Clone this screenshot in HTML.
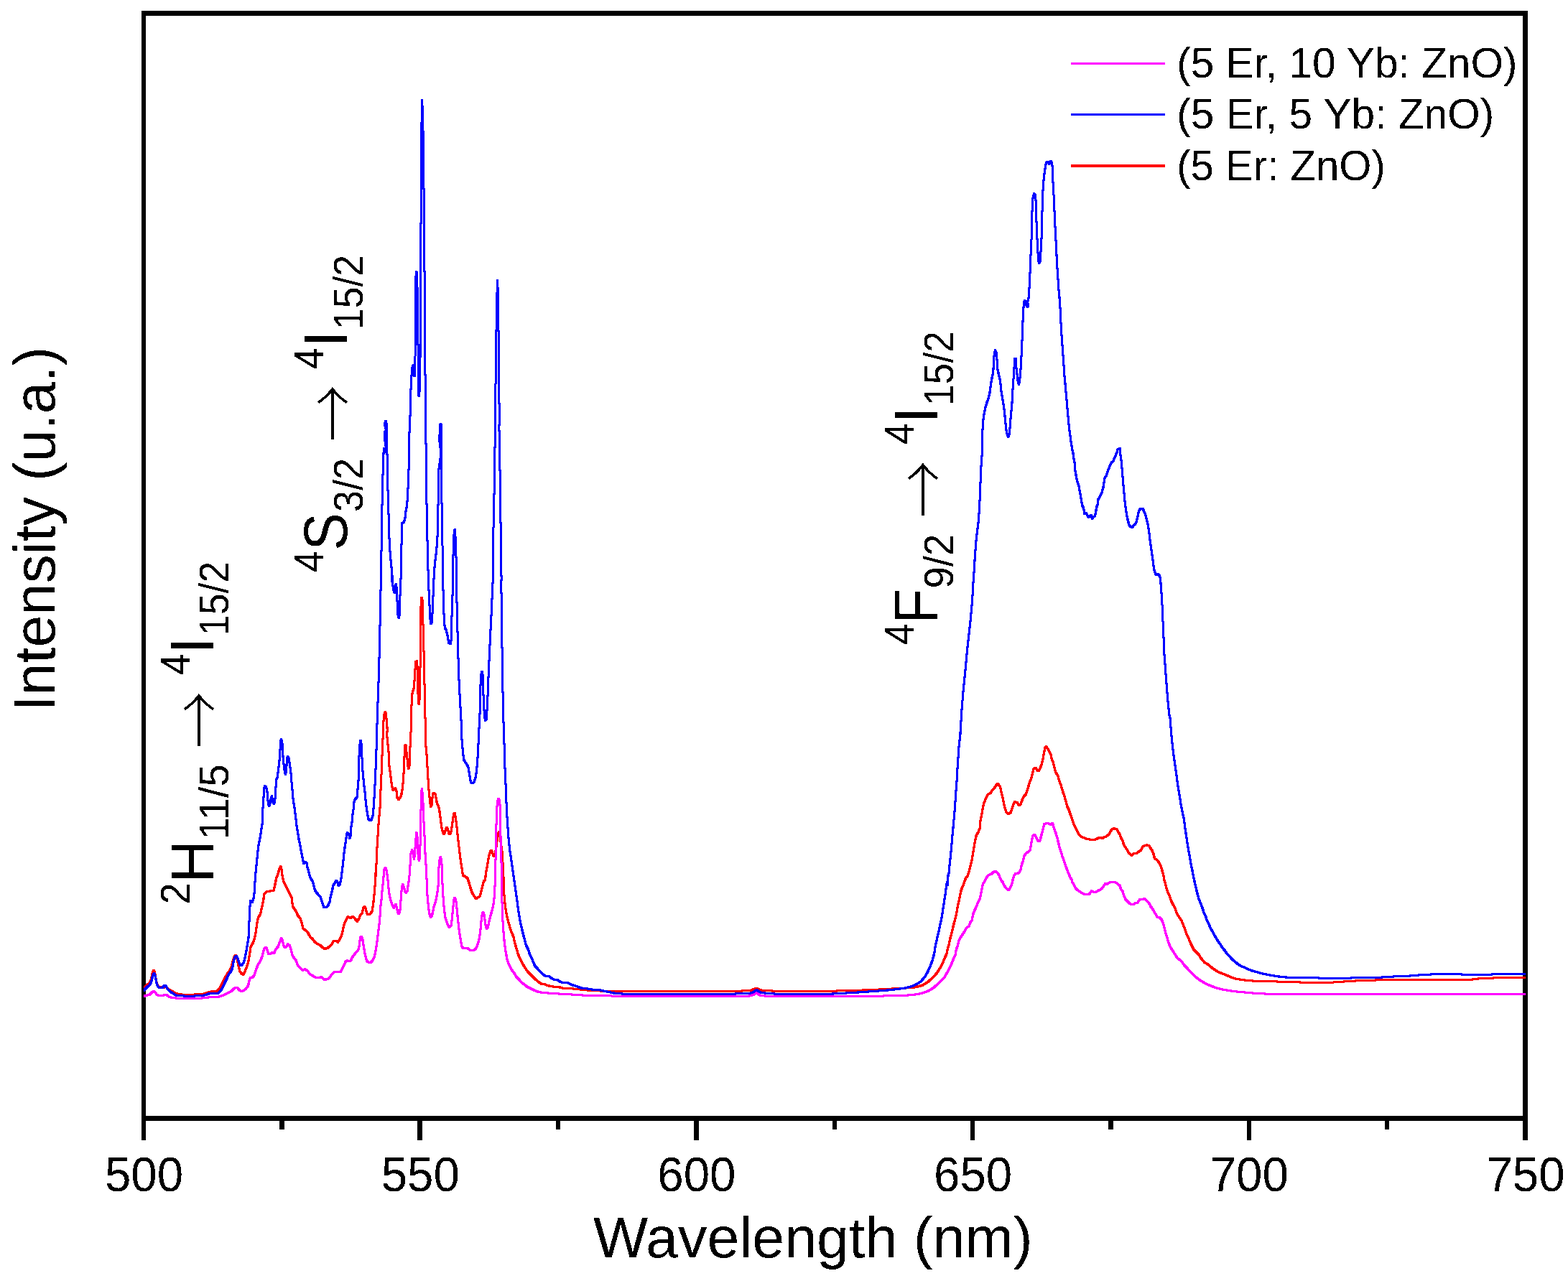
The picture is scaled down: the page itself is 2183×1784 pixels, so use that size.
<!DOCTYPE html>
<html lang="en"><head><meta charset="utf-8"><title>Upconversion emission spectra</title>
<style>
html,body{margin:0;padding:0;background:#fff;}
body{width:2183px;height:1784px;overflow:hidden;}
svg{display:block;}
text{font-family:"Liberation Sans",Arial,Helvetica,sans-serif;font-size:100px;fill:#000;}
text.ar{font-family:"Noto Serif CJK SC","Noto Serif CJK JP","DejaVu Serif",serif;}
.tk{text-anchor:middle;}
.cv{fill:none;stroke-width:1;stroke-linejoin:round;stroke-linecap:butt;}
</style></head><body>
<svg width="2183" height="1784" viewBox="0 0 2183 1784">
<rect x="0" y="0" width="2183" height="1784" fill="#fff"/>
<filter id="br" filterUnits="userSpaceOnUse" x="190" y="100" width="1944" height="1320"><feMorphology operator="dilate" radius="1"/></filter>
<filter id="bin" filterUnits="userSpaceOnUse" x="0" y="0" width="2183" height="1784" color-interpolation-filters="sRGB"><feComponentTransfer><feFuncA type="discrete" tableValues="0 1"/></feComponentTransfer></filter>
<g shape-rendering="crispEdges">
<rect x="197" y="15" width="1930" height="7" fill="#000"/>
<rect x="197" y="1554" width="1930" height="7" fill="#000"/>
<rect x="197" y="15" width="6" height="1546" fill="#000"/>
<rect x="2120" y="15" width="7" height="1546" fill="#000"/>
<line x1="200.00" y1="1557" x2="200.00" y2="1588" stroke="#000" stroke-width="6.5"/>
<line x1="392.35" y1="1557" x2="392.35" y2="1573" stroke="#000" stroke-width="6.5"/>
<line x1="584.70" y1="1557" x2="584.70" y2="1588" stroke="#000" stroke-width="6.5"/>
<line x1="777.05" y1="1557" x2="777.05" y2="1573" stroke="#000" stroke-width="6.5"/>
<line x1="969.40" y1="1557" x2="969.40" y2="1588" stroke="#000" stroke-width="6.5"/>
<line x1="1161.75" y1="1557" x2="1161.75" y2="1573" stroke="#000" stroke-width="6.5"/>
<line x1="1354.10" y1="1557" x2="1354.10" y2="1588" stroke="#000" stroke-width="6.5"/>
<line x1="1546.45" y1="1557" x2="1546.45" y2="1573" stroke="#000" stroke-width="6.5"/>
<line x1="1738.80" y1="1557" x2="1738.80" y2="1588" stroke="#000" stroke-width="6.5"/>
<line x1="1931.15" y1="1557" x2="1931.15" y2="1573" stroke="#000" stroke-width="6.5"/>
<line x1="2123.50" y1="1557" x2="2123.50" y2="1588" stroke="#000" stroke-width="6.5"/>
</g>
<g filter="url(#bin)">
<text class="tk" transform="translate(200.50,1659.40) scale(0.6541,0.6784)">500</text>
<text class="tk" transform="translate(585.20,1659.40) scale(0.6541,0.6784)">550</text>
<text class="tk" transform="translate(969.90,1659.40) scale(0.6541,0.6784)">600</text>
<text class="tk" transform="translate(1354.60,1659.40) scale(0.6541,0.6784)">650</text>
<text class="tk" transform="translate(1739.30,1659.40) scale(0.6541,0.6784)">700</text>
<text class="tk" transform="translate(2124.00,1659.40) scale(0.6541,0.6784)">750</text>
<text transform="translate(825.90,1750.50) scale(0.8076,0.8058)">Wavelength (nm)</text>
<text transform="translate(76.00,990.41) rotate(-90) scale(0.8010,0.8087)">Intensity (u.a.)</text>
<rect x="1491" y="87" width="131" height="3" fill="#ff00ff"/>
<text transform="translate(1638.24,107.90) scale(0.5858,0.5964)">(5 Er, 10 Yb: ZnO)</text>
<rect x="1491" y="158" width="131" height="3" fill="#0000ff"/>
<text transform="translate(1638.24,178.80) scale(0.5864,0.5964)">(5 Er, 5 Yb: ZnO)</text>
<rect x="1491" y="229" width="131" height="4" fill="#ff0000"/>
<text transform="translate(1638.27,250.90) scale(0.5811,0.5964)">(5 Er: ZnO)</text>
<text transform="translate(263.90,1259.51) rotate(-90) scale(0.5429,0.5658)">2</text>
<text transform="translate(297.00,1229.59) rotate(-90) scale(0.8233,0.8436)">H</text>
<text transform="translate(318.00,1169.41) rotate(-90) scale(0.5613,0.5702)">11/5</text>
<text class="ar" transform="translate(310.31,1042.17) rotate(-90) scale(0.7914,0.8792)">→</text>
<text transform="translate(263.90,939.89) rotate(-90) scale(0.5287,0.5658)">4</text>
<text transform="translate(297.00,911.20) rotate(-90) scale(0.8757,0.8436)">I</text>
<text transform="translate(318.00,885.59) rotate(-90) scale(0.5324,0.5702)">15/2</text>
<text transform="translate(449.90,797.10) rotate(-90) scale(0.5347,0.5658)">4</text>
<text transform="translate(483.00,766.42) rotate(-90) scale(0.7826,0.8436)">S</text>
<text transform="translate(504.60,712.92) rotate(-90) scale(0.5390,0.5702)">3/2</text>
<text class="ar" transform="translate(496.31,615.06) rotate(-90) scale(0.7903,0.8792)">→</text>
<text transform="translate(449.90,514.09) rotate(-90) scale(0.5287,0.5658)">4</text>
<text transform="translate(483.00,484.20) rotate(-90) scale(0.8757,0.8436)">I</text>
<text transform="translate(504.60,458.90) rotate(-90) scale(0.5330,0.5702)">15/2</text>
<text transform="translate(1271.90,898.10) rotate(-90) scale(0.5327,0.5658)">4</text>
<text transform="translate(1305.00,868.60) rotate(-90) scale(0.8000,0.8436)">F</text>
<text transform="translate(1326.60,819.48) rotate(-90) scale(0.5439,0.5702)">9/2</text>
<text class="ar" transform="translate(1318.31,721.28) rotate(-90) scale(0.7946,0.8792)">→</text>
<text transform="translate(1271.90,619.11) rotate(-90) scale(0.5366,0.5658)">4</text>
<text transform="translate(1305.00,590.20) rotate(-90) scale(0.8757,0.8436)">I</text>
<text transform="translate(1326.60,564.79) rotate(-90) scale(0.5324,0.5702)">15/2</text>
</g>
<clipPath id="cp"><rect x="200" y="0" width="1924" height="1784"/></clipPath>
<g class="cv" shape-rendering="crispEdges" clip-path="url(#cp)">
<g stroke="#ff0000" filter="url(#br)"><polyline points="200,1377.7 203.5,1372.2 208.4,1369.1 210.8,1362.4 212.6,1353.2 214.1,1351.4 215.7,1354.5 217.5,1366.1 219.4,1372.2 221.8,1374.7 226.7,1375.3 231.6,1374.7 235.3,1378.3 240.2,1380.8 245.1,1383.8 253.7,1385.1 261,1385.7 269.6,1385.1 283,1384.2 290.4,1382 295.3,1380.8 302,1380.8 306.3,1375.9 309.4,1369.8 313,1362.4 316.7,1355.7 319.8,1352 322.2,1346.5 324.7,1336.7 326.5,1331.6 328.3,1330.3 330.2,1335.5 332,1345.3 333.8,1352.6 336.3,1355.7 338.4,1357.5 340.6,1353.8 343.6,1346.5 346.1,1337.9 347.9,1326.9 349.1,1318.3 352.8,1312.2 354.6,1306.1 356.5,1296.3 357.7,1286.5 359.5,1277.9 362.6,1273.1 364.4,1264.5 366.3,1255.9 368.1,1244.9 371.2,1241.8 374.8,1241.2 381,1240 382.8,1232.5 384.7,1223.2 387.1,1217.1 389,1209.7 390.8,1206.7 392,1211 393.2,1220.8 395.1,1228.1 406.1,1249.8 407.6,1262.6 411.6,1268.2 414.6,1274.9 418.3,1279.2 420.1,1285.3 422,1293.2 426.3,1296.3 428.7,1298.8 431.8,1304.9 434.8,1307.3 438.5,1312.2 442.2,1314.7 445.8,1316.5 450,1320.2 452.2,1321.4 455.9,1320.4 459.6,1317.3 462.6,1314.3 464.5,1310 468.2,1310 470.4,1312.1 472.4,1309.4 474.9,1304.5 476.7,1298.3 478.6,1289.8 480.4,1283.7 482.2,1280.6 484.1,1276.9 486.5,1277.5 488.4,1278.8 490.2,1276.6 492.4,1277.3 495.1,1280.6 497.5,1283 500,1278.8 501.8,1274.5 504.3,1272 505.5,1265.3 507.1,1262.6 508.5,1263.5 510,1269 511.6,1273.2 514.1,1273.9 516.5,1271.4 518.3,1268.4 519.6,1259.2 520.8,1248.2 521.8,1237.1 522.6,1226.1 523,1215.9 523.2,1220 524,1203.6 524.8,1184 525.8,1166.9 526.7,1152.2 527.9,1137.5 529.1,1124 530,1100.8 531,1078.8 531.9,1054.3 532.8,1034.7 533.4,1020 533.7,1008.3 534.5,998.5 535.5,992.4 536.7,991.8 537.7,997.3 538.6,1008.3 539.4,1018.1 538.3,1020 539.8,1034.7 541,1046.9 541.7,1065.3 543.2,1075.1 544.4,1084.9 545.6,1094.7 546.9,1100.2 548.7,1099.6 550.3,1097.7 552,1102 553,1110.6 555.2,1113.6 557.9,1109.4 559.7,1103.2 561,1091 562.2,1073.9 563,1054.3 563.8,1038.4 565,1037.7 566.2,1049.4 567.4,1060.4 568.4,1070.8 569.9,1069 570.7,1046.9 572,1020 572.5,996.1 573.4,971.6 574.4,963 575.9,960.6 577.1,947.1 578.1,930 579,921.4 580.2,920.8 581,927.5 581.8,956.9 582.3,978.9 583.2,980.2 584.2,972.8 584.7,944.7 585.1,925.1 585.4,881 586.1,840.6 586.9,832 587.9,833.3 588.4,845.5 589.1,873.7 589.6,895.7 590.3,915.3 590.8,944.7 591.6,976.5 592.1,1005.9 592.2,1020 593.1,1042 594.4,1054.3 595.2,1071.4 596.1,1086.1 597.1,1100.8 598.3,1113 599.5,1124 601,1121.6 601.8,1113 602.8,1105.7 604,1104.2 605.9,1105.7 607.1,1111.8 608.3,1117.9 610.8,1124 612.4,1132.6 613.6,1142.4 614.8,1152.2 616.3,1158.3 618.1,1162 620,1157.1 621.8,1152.2 623.6,1154.7 624.9,1160.8 626.7,1161.4 628.3,1157.1 629.5,1148.5 630.7,1140 632,1132.6 633.2,1132 634.4,1138.7 635.6,1148.5 636.9,1160.8 638.3,1173 639.5,1184 640.8,1195 642.2,1204.8 643.8,1213.4 644.4,1220 645.7,1219.5 648.1,1221.2 648.7,1221.4 651.2,1223.7 653,1229.8 653,1229.3 654.8,1235.9 657.3,1243.3 659.7,1247.5 662.8,1251.6 665.2,1250 667.7,1248.8 669.5,1243.3 671.4,1235.9 673.2,1228.6 673.8,1226.9 675,1226.1 675.3,1222 676.3,1220 676.9,1213.4 678.5,1206.1 679.7,1197.5 680.9,1191.4 682.4,1186.5 684,1184 685.5,1187.1 687.3,1192.6 689.1,1191.4 691,1179.1 692.8,1164.4 694.4,1158.3 695.9,1164.4 697.7,1176.7 699.5,1188.9 700.1,1203.6 700.6,1220 700.8,1215.9 701.4,1232.5 701.4,1238.4 702.6,1255.5 704.5,1269 706.7,1280 709.4,1289.8 712.1,1298.3 714.9,1304.5 716.7,1313 718.9,1320.4 721,1327.7 722.8,1332.6 725.3,1337.5 728.4,1343.6 731.4,1348.5 734.5,1352.8 738.8,1357.1 742.4,1360.8 746.1,1364.4 749.8,1367.5 753.4,1370 758.3,1370.8 763.2,1372.8 768.1,1373.6 773,1374.5 777.9,1374.5 784,1376.4 792.6,1376.7 802.4,1377.3 809.8,1378.2 817.1,1378.9 826.9,1379.7 839.1,1380.1 851.4,1380.4 875.9,1380.6 908.9,1380.1 940,1380.6 986.5,1380.5 1043,1379.9 1048.6,1378 1053.4,1376.1 1058.1,1378.6 1065.6,1379.9 1118.3,1380.5 1174.8,1379.9 1212.5,1378.6 1240.7,1377.1 1259.6,1376.1 1272.7,1375.2 1284,1372.4 1291.6,1367.7 1299.1,1361.1 1304.8,1354.5 1309.5,1346.9 1313.2,1339.4 1317,1330 1317.5,1330.2 1319,1322.8 1320.8,1316.7 1322.6,1308.1 1324.5,1300.8 1326.3,1293.4 1328.1,1286.1 1330,1278.8 1331.8,1271.4 1333,1264.1 1334.6,1256.7 1336.1,1249.4 1337.9,1240.8 1340.4,1233.5 1341.2,1232.5 1342.8,1227.3 1343.7,1225.6 1344.7,1222.4 1346.7,1220.8 1349.2,1213.4 1351,1206.1 1353.2,1197.5 1354.7,1187.7 1356.1,1179.1 1357.7,1170.6 1359.3,1163.2 1361.8,1159.5 1364.2,1153.4 1365.1,1142.4 1366.7,1135.1 1368.1,1126.5 1369.6,1119.2 1371.6,1114.3 1373,1110.6 1375.5,1106.3 1379.2,1104.5 1381.6,1100.2 1384.7,1097.1 1387.1,1093.4 1388.7,1091 1390.8,1093.4 1392.6,1095.9 1393.8,1102 1395.7,1109.4 1397.3,1117.9 1398.7,1124 1400.6,1130.2 1402.4,1132.6 1404.2,1133.8 1407.3,1131.4 1409.1,1125.3 1411,1119.8 1412.8,1116.7 1415.9,1117.3 1418.3,1121.6 1420.8,1120.4 1422.6,1115.5 1425.1,1109.4 1428.1,1106.3 1430,1100.8 1431.8,1095.3 1433.6,1088.5 1435.5,1084.9 1437.3,1077.5 1439.1,1070.2 1442.2,1069.6 1444,1073.2 1445.9,1073.9 1448.3,1069.6 1450.2,1064.1 1452,1056.7 1453.6,1048.2 1455,1041.4 1456.3,1039.6 1458.7,1042.6 1460.6,1046.3 1463,1051.2 1464.2,1056.7 1466.1,1061.6 1467.9,1069 1469.7,1075.7 1472.8,1080 1474.6,1087.3 1477.1,1093.4 1479.5,1102 1481.7,1108.1 1483.8,1115.5 1485.6,1122.8 1488.1,1127.7 1489.9,1133.2 1492.4,1140 1494.8,1147.9 1497.3,1152.2 1499.7,1157.1 1502.2,1162 1505.2,1165.1 1507.7,1166.3 1512.6,1168.1 1517.5,1169.1 1522.4,1169.6 1526,1168.7 1529.7,1166.9 1532.2,1166.3 1534,1168.1 1536.5,1166.3 1540,1165.1 1542,1163.3 1544.5,1161.4 1546.3,1157.7 1548.2,1154.7 1551.2,1153.7 1554.9,1154.9 1556.7,1158.4 1559.2,1162.6 1561,1167.5 1562.8,1170.6 1564.7,1176.7 1567.1,1180.4 1569.6,1184.1 1572,1188.4 1575.7,1191.4 1578.8,1188.4 1582.4,1188.4 1585.5,1185.9 1588.5,1184.1 1590.8,1179.2 1593.4,1177.9 1596.5,1177 1599.6,1177.7 1602,1181.6 1604.5,1185.3 1606.3,1190.2 1607.5,1195.7 1610.6,1197.5 1613.6,1201.2 1616.1,1206.1 1617.9,1212.2 1619.8,1218.3 1621,1225.7 1622.8,1231.8 1624.3,1237.9 1626.3,1244 1628.3,1247.7 1630.2,1253.8 1632.6,1258.7 1635.7,1264.2 1637.5,1269.8 1639.4,1274 1642.4,1278.3 1644.9,1282 1647.3,1288.1 1649.8,1294.2 1652.2,1301.6 1654.7,1306.5 1657.1,1312.6 1659.5,1317.5 1662,1322.4 1665.7,1326.1 1668.7,1329.1 1671.2,1333.4 1674.2,1337.1 1677.3,1340.8 1680.4,1342 1684,1345 1687.7,1348.1 1691.4,1350.5 1696.5,1353.9 1704,1356.7 1711.6,1359.9 1719.1,1362.9 1730.4,1364.8 1745.5,1366.1 1760.5,1366.7 1783.1,1367.1 1809.5,1368 1837.7,1368.6 1856.6,1368 1875.4,1366.7 1894.2,1365.6 1922.5,1364.8 1950.7,1364.3 1997.8,1364.6 2040,1364.3 2048.9,1364.1 2060.2,1362.8 2077.2,1362.1 2096,1361.1 2114.8,1361.2 2123.5,1361.6"/></g>
<g stroke="#ff00ff" filter="url(#br)"><polyline points="200,1387.5 203.5,1386.3 208.4,1385.1 211.4,1382 214.5,1380.5 216.3,1382 218.2,1385.1 221.8,1386.6 226.1,1386.9 229.2,1385.7 232.2,1385.9 235.3,1388.1 239,1389.3 245.1,1390 253.7,1390 263.4,1390.1 273.2,1390.1 279.4,1390.3 285.5,1389.3 294,1388.7 303.8,1388.4 310,1386.3 314.9,1384.2 321.6,1380.8 325.9,1376.5 328.3,1375.3 330.8,1375.9 333.2,1378.9 336.9,1380.8 341.8,1377.7 345.5,1372.8 347.3,1364.9 348.5,1361.2 351.6,1361.2 354,1358.1 356.5,1350.2 359.5,1342.8 362.6,1338.5 365,1331.8 367.5,1322 369.3,1319.6 371.2,1320.2 373.6,1328.1 375.5,1328.7 378.5,1326.9 381.6,1327.5 384,1322 387.1,1318.3 389.5,1312.2 391.7,1306.7 393.2,1309.2 395,1317.1 396.9,1320.2 398.7,1318.3 400.5,1314.7 403,1316.5 404.8,1320.8 406.7,1329.4 409.1,1333.6 412.2,1337.9 414.6,1344.7 418.3,1348.3 421.4,1351.4 424.4,1349.6 428.1,1352 431.1,1356.3 436,1359.4 439.7,1361.2 444,1361.8 447.1,1360.6 450,1363 452.2,1364.4 455.3,1363.8 458.4,1362.2 461.4,1357.7 465.1,1354 469.4,1353.8 474.3,1353.4 476.7,1348.5 479.2,1343.6 481,1339.4 483.1,1337.8 485.9,1338.5 488.4,1337.8 490.2,1333.8 493.2,1329.6 495.7,1326.3 498.1,1324 499.7,1320.4 500.6,1313 501.6,1305.7 502.7,1304.2 504.3,1306.3 505.5,1311.8 506.7,1320.4 507.9,1327.7 509.2,1332.6 510.4,1338.1 512.8,1340 515.3,1340.9 518.3,1338.5 520.8,1333.8 522.6,1326.5 524.2,1316.7 525.4,1308.1 526.9,1295.9 528.1,1286.1 529.1,1275.1 530,1261.6 531.2,1251.8 532.1,1239.6 533.3,1229.8 533.4,1222 534.3,1220 534.6,1212.2 536.5,1208.5 538.3,1212.2 539.2,1220 539.5,1222 540.4,1229.8 541.4,1240.8 542.6,1248.2 544.3,1255.5 546.3,1260.4 548.3,1264.3 549.9,1261.6 551.1,1258.9 552.4,1264.1 553.6,1270.2 555.1,1272.9 556.9,1269 557.8,1256.7 558.7,1244.5 559.7,1234.7 560.9,1231.6 562.4,1235.9 563.9,1241.4 565.5,1243 567.1,1240.8 568.3,1232.2 569.5,1224.9 570,1220 570.1,1215.9 571.1,1203.6 572,1188.9 573.6,1184 575,1188.9 576.5,1196.3 577.5,1188.9 578.7,1170.6 579.9,1159.5 581.1,1166.9 582.1,1191.4 583.4,1198.7 584.6,1193.8 585.2,1169.3 585.8,1135.1 586.7,1103.2 587.5,1099 588.5,1108.1 589.1,1120.4 589.7,1140 590.7,1154.7 591.3,1171.8 591.9,1186.5 592.8,1201.2 593.6,1213.4 593.3,1220 594.6,1228.1 594.5,1242 595.7,1254.3 596.9,1266.5 598.2,1273.9 599.4,1277.3 601.3,1275.7 602.8,1269 604.3,1261.6 606.5,1255.5 607.9,1248.2 609.5,1239.6 610.4,1229.8 611,1220 610.2,1218.3 611.4,1203.6 612.4,1195 613.6,1193.8 614.8,1201.2 615.7,1213.4 615.3,1220 616.3,1235.9 617.3,1254.3 618.5,1267.7 619.9,1277.5 621.8,1283.7 623.9,1289.2 625.8,1291.2 627.9,1289.5 629.1,1281.2 630.3,1269 631.6,1255.5 632.4,1250.6 633.7,1250.4 634.9,1255.5 636.1,1265.3 637.3,1278.8 638.5,1289.8 639.8,1299.6 641.4,1309.4 643,1317.9 644.7,1320.4 647.5,1321 649.9,1320.1 652.4,1321.6 654.8,1323.8 658.5,1324 661.6,1322.2 664,1317.9 666.2,1311.8 667.9,1303.2 669.2,1292.2 670.1,1282.4 671.4,1272.6 672.6,1270.2 673.8,1272.6 675,1281.2 676.3,1289.8 677.7,1293.2 679.3,1291 680.9,1283.7 683,1275.1 685.4,1266.5 687.3,1257.9 688.5,1246.9 689.1,1232.2 689.7,1220 689.7,1209.7 690.3,1185.3 691,1148.5 691.9,1124 693.2,1113 694.6,1112.4 695.9,1117.9 696.5,1132.6 696.8,1154.7 697.3,1179.1 698.1,1203.6 698.4,1220 698.6,1244.5 699.3,1266.5 700.2,1287.3 701.4,1303.2 702.6,1315.5 704.5,1327.7 706.3,1337.5 708.8,1343.6 711.8,1349.8 715.5,1354.7 719.2,1360.8 722.8,1364.4 726.5,1368.7 730.2,1371.2 733.9,1374.2 738.8,1376.7 743.7,1379.1 748.5,1381 753.4,1382.2 760.8,1382.8 768.1,1383.4 777.9,1384 790.2,1384.6 802.4,1385.5 814.7,1386.2 833,1386.7 851.4,1387 875.9,1387.5 900.3,1387.5 924.8,1387.5 940,1387.5 986.5,1387.4 1043,1387.1 1048.6,1385.6 1053.4,1382.7 1058.1,1386.1 1065.6,1387.1 1118.3,1387.4 1174.8,1387.3 1212.5,1387.1 1250.2,1386.9 1269,1385.7 1282.2,1383.7 1291.6,1380.5 1299.1,1376.1 1306.6,1369.5 1314.2,1362 1319.8,1352.6 1323.6,1345.1 1327.4,1335.6 1329.7,1330.2 1330,1330 1331.2,1322.8 1333.4,1316.7 1334.9,1310.6 1337.1,1305.7 1339.8,1302 1342.8,1297.1 1345.6,1292.2 1349,1289.8 1350.8,1284.9 1353.5,1281.2 1354.5,1273.9 1356.3,1269 1358.7,1264.1 1361.2,1257.9 1364,1251.8 1365.5,1245.7 1366.9,1238.4 1368.1,1232.5 1368.5,1231 1371,1227.3 1371.2,1226.9 1372.8,1223.7 1373.6,1222 1376.7,1218.3 1379.8,1217.7 1382.8,1214.6 1385.9,1213.4 1388.9,1215.9 1391.4,1219.5 1392.4,1223.7 1393.2,1224.4 1394.9,1227.3 1396.3,1228.7 1397.3,1232.2 1397.8,1232.5 1399.8,1235.9 1402.8,1239 1405.3,1239 1406.9,1235.3 1408.3,1232.5 1408.9,1231 1409.8,1225.6 1410.2,1226.1 1411.6,1219.5 1414,1216.5 1418.3,1215.9 1420.8,1212.2 1422.6,1203.6 1424.4,1198.7 1425.7,1192.6 1428.1,1188.9 1431.2,1186.5 1434.2,1184 1435.2,1177.9 1436.4,1170.6 1437.9,1164.4 1439.7,1162 1441.6,1163.8 1443.4,1168.1 1445.3,1171.8 1447.5,1171.8 1448.9,1166.9 1450.8,1159.5 1452.6,1152.2 1454.1,1147.3 1457.5,1146.7 1461.2,1147.1 1463,1148.5 1464.8,1146.1 1466.1,1148.5 1467.9,1154.7 1469.7,1159.5 1471.6,1165.7 1473.4,1173 1475.2,1180.4 1477.3,1186.5 1478.9,1192.6 1481.4,1198.7 1483.2,1204.8 1485.6,1211 1487.5,1215.9 1489.6,1220.8 1491,1223.7 1491.8,1224.4 1492.8,1228.6 1493.6,1229.3 1495,1232.2 1495.2,1232.5 1497.4,1237.1 1500.1,1239.6 1503.8,1242 1507.5,1244.5 1511.1,1246 1516,1245.5 1518.5,1242.6 1519.7,1240.8 1522.2,1242.3 1526.5,1242 1530,1239.6 1531.6,1239.4 1534.7,1236.7 1537.1,1233 1539,1230.6 1541.4,1231.2 1543.9,1229.6 1546.9,1228.4 1550.6,1228.1 1554.3,1229.4 1556.7,1231.8 1559.2,1233.6 1560.6,1238.5 1563.1,1241.6 1564.7,1247.7 1567.1,1252.6 1570.2,1255.7 1572.6,1258.1 1575.1,1260 1578.1,1259.7 1580.6,1257.8 1583.7,1257.3 1586.7,1252.6 1589.8,1252.4 1593.4,1251.6 1595.9,1253.8 1598.3,1256.3 1600.2,1258.7 1602,1262.4 1604.5,1265.5 1606.9,1269.8 1609.4,1274 1611.2,1277.1 1614.9,1278.1 1617.3,1280.8 1619.4,1285.7 1621,1291.8 1622.8,1299.1 1624.7,1305.3 1626.5,1311.4 1628.3,1316.3 1630.8,1321.2 1633.2,1324.8 1636.3,1329.7 1639.4,1334.6 1642.4,1336.5 1645.5,1339.5 1647.9,1343.2 1651.6,1346.9 1654.7,1350.5 1658.8,1354.8 1664.5,1360.5 1672,1366.1 1681.4,1371.2 1692.7,1375.6 1704,1378.4 1715.3,1380.3 1730.4,1381.8 1745.5,1383.1 1760.5,1384 1775.6,1384.4 1809.5,1384.4 1866,1384.6 1941.3,1384.4 2040,1384.4 2048.9,1384.5 2123.5,1384.4"/></g>
<g stroke="#0000ff" filter="url(#br)"><polyline points="200,1379.5 203.5,1375.9 208.4,1371.6 210.8,1367.3 212.6,1358.7 214.5,1355.1 216.3,1360 218.2,1369.8 220,1374 222.4,1375.9 226.1,1375.6 229.2,1372.2 231,1372.8 232.8,1376.5 236.5,1380.8 241.4,1383.8 246.3,1386.9 252.4,1386.3 258.5,1387.5 269.6,1387.1 280.6,1386.3 286.7,1385.7 291.6,1383.5 296.5,1383.8 303.2,1383.5 306.3,1380.8 309.4,1376.5 312.4,1369.8 316.1,1362.4 318.5,1356.9 322.2,1352 324,1346.5 325.3,1337.9 327.1,1332.4 328.9,1331.2 330.8,1334.3 332.6,1340.4 334.4,1344 336.9,1344 339.3,1340.4 341.8,1330.6 343.6,1320.8 344.8,1313.4 346.1,1304.9 346.7,1289 347.7,1269.4 348.3,1255.9 349.1,1254.1 351,1257.1 352.8,1252.2 354,1243.7 354.6,1240 354.7,1232.5 355.9,1215.9 357.1,1203.6 358.4,1191.4 359.6,1179.1 361.4,1170.6 362.6,1164.4 363.9,1154.7 365.1,1147.3 365.7,1130.2 366.7,1115.5 367.5,1100.8 368.4,1094.7 370,1095.3 371.6,1099.6 372.4,1105.7 373.1,1116.7 374.3,1122.2 375.7,1121.6 376.7,1114.3 378.3,1108.7 379.8,1116.7 381.4,1119.2 382.8,1115.5 383.8,1099.6 384.7,1086.1 386.3,1082.4 387.7,1070.2 389,1059.2 389.9,1045.7 390.8,1032.2 391.7,1029.2 392.9,1034.7 393.6,1044.5 394.1,1055.5 395.3,1066.5 396.6,1076.3 397.8,1078.1 398.8,1069 399.6,1055.5 400.7,1053.7 402.2,1056.7 403.4,1064.1 404.3,1071.4 405.5,1081.2 406.1,1091 407.3,1103.2 408.3,1115.5 409.8,1122.8 411,1132.6 412.2,1142.4 413.2,1152.2 414.7,1159.5 415.9,1168.1 417.7,1175.5 419,1184 420.5,1191.4 421.8,1198.7 423,1202.4 425.1,1199.9 426.9,1201.8 428.1,1208.5 430,1214.6 431.8,1222 434.9,1226.9 436.7,1232.5 438.5,1240 440,1242 443.7,1246.9 446.1,1249.4 448.6,1256.7 451,1263.5 454.1,1263.8 456.5,1261.6 459,1256.1 460.2,1249.4 462,1242 463.9,1233.5 466.3,1229.2 467.9,1226.7 469.6,1227.3 471.2,1233.5 472.8,1232.2 474.3,1227.3 475.3,1220.8 475.5,1220 476.5,1211 477.7,1201.2 478.9,1188.9 480.2,1179.1 481.4,1171.8 482.6,1162 483.8,1159.5 485.7,1162 486.9,1167.5 488.1,1163.2 488.7,1153.4 490,1144.9 490.8,1135.1 492,1127.7 493,1116.7 494.5,1113 497.3,1110 497.9,1100.8 499.1,1086.1 499.7,1059.2 500.6,1040.8 501.6,1031 502.8,1032.2 503.8,1051.8 504.6,1069 505.9,1083.7 507.1,1095.9 508.3,1105.7 509.5,1119.2 510.8,1128.9 512.6,1140 515,1143 517.5,1141.2 519.3,1135.1 520.2,1124 521.2,1108.1 522,1093.4 523,1071.4 524,1044.5 524.6,1020 525.5,993.6 526.3,969.1 527.2,944.7 527.9,920.2 528.8,883.4 529.4,846.7 530,822.2 530.6,810 530.8,783.6 531.6,722.4 532.4,685.7 533.3,649 534.3,624.5 538.6,630.6 535.3,609.8 536.1,600 537.9,600 535.5,590.8 536.5,586.5 537.7,587.1 538.6,595.6 539.4,667.3 540.6,697.9 541.6,740.8 542.6,762.8 543.8,777.5 545.3,793.4 545.9,810 546.3,802 547.1,817.3 548.4,823.5 549.9,825.9 550.8,814.9 551.7,813.7 552.6,825.9 553.2,841.8 553.9,855.3 555.1,860.8 556.1,856.5 556.6,845.5 556.9,832 557.5,817.3 557.8,810 558.5,795.9 559,759.1 559.7,728.5 562.4,727.3 563.9,722.4 564.9,712.6 566.7,704 567.9,683.2 568.8,661.2 569.8,628.2 570,602.5 570.4,600 570.8,592 571.3,561 572.2,537 573.2,520 574.2,510.5 575.3,508.7 576.1,518 576.8,524 577.6,522 578,500 578.1,480 578.4,420 579,385 579.6,378 580.5,380 581.5,420 582,480 582.3,520 582.8,550 583.3,551.5 584,546 584.6,520 585.3,480 585.6,440 585.7,320 586.4,300 586.6,180 587.3,165 587.5,140 588.3,152 589.2,191 590.2,279 590.8,350 591.2,404 591.6,480 592.2,540 592.4,549.1 592.4,600 592.4,602.5 593,618.4 593.6,673.4 594.3,722.4 594.9,746.9 595.7,783.6 596.5,810 597.3,828.4 598.2,846.7 598.9,861.4 599.8,868.8 601,867.5 601.8,859 602.6,840.6 603.1,828.4 603.8,810 604.7,793.4 605.9,781.2 607.1,771.4 608.3,759.1 609.2,744.4 609.9,710.2 610.8,655.1 614.1,630.6 611.6,612.2 612.4,600 613.2,600 612,593.2 613.2,590.8 614.5,592 614.8,685.7 615.3,722.4 616,759.1 616.5,795.9 616.5,810 617.3,828.4 617.8,849.2 618.5,868.8 619.7,874.9 621.2,877.3 622.4,882.2 623.6,888.3 624.9,895.7 627.3,896.7 628.3,889.6 628.8,871.2 629.1,852.8 629.8,834.5 630.4,819.8 630.7,810 630.7,783.6 631.6,753 632.4,738.3 633.7,737.7 634.4,759.1 635.3,783.6 635.3,810 635.9,834.5 636.5,859 637.1,883.4 637.7,907.9 638.3,926.3 638.9,944.7 639.8,963 640.8,981.4 641.8,999.7 642.6,1012 642,1020 643.2,1032.2 644.4,1046.9 645.7,1057.9 648.7,1062.8 651.8,1067.7 653,1075.1 654.5,1083.7 655.5,1089.8 657.9,1091 660.4,1088.5 662.2,1082.4 663.4,1073.9 664.6,1061.6 665.5,1046.9 666.2,1032.2 666.7,1020 667.5,1005.9 668.3,987.5 668.9,956.9 669.5,942.2 670.4,936.1 671.6,935.5 672.4,944.7 672.8,963 673.6,981.4 674.4,996.1 675.7,1003.4 677.3,1001 678.1,987.5 679,969.1 679.7,950.8 680.6,930 681.4,910.4 682.4,889.6 683.6,865.1 684.6,844.3 685.5,822.2 686.1,810 686.1,783.6 687,734.7 687.9,697.9 688.5,649 689.1,618.4 689.3,602.5 689.7,600 689.6,570 690,536 690.5,500 691,460 691.6,430 692,408 692.5,391 693.2,404 693.8,440 694.3,490 694.8,541 695.2,580 694.9,600 695.6,602.5 695.6,624.5 696.1,661.2 696.8,710.2 697.3,753 698.1,808.1 697.3,810 698.1,828.4 698.3,859 698.9,895.7 699.3,920.2 699.8,956.9 700.5,981.4 701,1005.9 701.4,1020 702,1035.9 702.6,1056.7 703.2,1075.1 704.2,1095.9 705,1117.9 705.9,1136.3 707.1,1154.7 708.3,1170.6 709.9,1185.3 711.8,1197.5 713.6,1209.7 714.9,1220 715.2,1220.8 716.7,1232.5 718.6,1244.5 720.2,1256.7 721.9,1269 723.5,1278.8 725.3,1288.5 727.7,1298.3 730.2,1308.1 732.6,1316.7 735.1,1321.6 737.5,1328.9 740,1333.8 742.4,1340 744.9,1345.5 747.9,1348.5 752.2,1353.4 757.1,1357.7 759.6,1359.3 764.5,1359.5 768.1,1362.6 771.8,1364.2 775.5,1364.4 780.4,1367.5 784,1368.4 790.2,1368.4 795.1,1371.2 802.4,1373.6 809.8,1376.1 817.1,1376.9 826.9,1378.5 834.2,1378.5 841.6,1380.4 848.9,1381.8 856.3,1383.4 866.1,1384 875.9,1384.6 900.3,1384.6 940,1384.6 986.5,1384.6 1043,1383.7 1048.6,1381.8 1053.4,1378.6 1058.1,1381.8 1065.6,1383.1 1080.7,1384.2 1118.3,1384.6 1156,1384.2 1184.2,1382.7 1212.5,1380.8 1240.7,1378.6 1259.6,1376.1 1269,1373.7 1276.5,1370.5 1282.2,1366.7 1287.8,1360.1 1291.6,1353.5 1295.3,1345.1 1298.2,1337.5 1300,1330.2 1300.6,1330 1301.6,1320.4 1303.3,1313 1304.9,1305.7 1306.7,1298.3 1308.2,1291 1309.8,1283.7 1311.4,1276.3 1312.8,1266.5 1314.3,1256.7 1315.9,1246.9 1317.1,1237.1 1318.4,1228.6 1319.4,1232.5 1319.9,1220 1321,1215.9 1322.2,1203.6 1323.5,1191.4 1324.7,1179.1 1325.9,1164.4 1327.5,1147.3 1329,1130.2 1329.9,1117.9 1330.8,1103.2 1332,1088.5 1332.9,1071.4 1333.9,1056.7 1334.8,1042 1336.1,1029.8 1336.9,1020 1337,1022.5 1338.6,993.6 1341,963 1344.1,932.4 1346.5,905.5 1349,883.4 1351.4,861.4 1353.2,840.6 1354.5,822.2 1355.1,809.7 1355.3,810 1356.3,791.4 1357.5,773 1358.8,754.7 1360.2,742.4 1361.8,730.2 1363,715.5 1363.9,699.6 1364.9,675.1 1365.9,650.6 1367.2,632.5 1367.5,609.7 1368.4,588.9 1369.6,579.1 1371.2,570.6 1372.4,565.7 1374.3,559.5 1376.1,554.7 1377.9,547.3 1379.2,537.5 1380.2,530.2 1381.6,524 1382.8,517.9 1383.5,503.2 1384.3,492.2 1385.5,487.9 1387.1,491 1388,500.8 1388.7,513 1390.2,520.4 1392,527.7 1393.2,536.3 1394.1,546.1 1395.7,554.7 1397.3,564.4 1398.5,574.2 1399.7,586.5 1400.6,596.3 1401.8,603.6 1403.4,608.5 1404.9,606.1 1406.1,595 1407.1,581.6 1408.3,569.3 1409.2,558.3 1410,542.4 1411,527.7 1412,511.8 1412.8,499.6 1414.4,499.6 1414.9,511.8 1415.9,520.4 1417.1,530.2 1418.3,535.7 1419.6,530.2 1420.8,517.9 1421.8,499.6 1422.6,487.3 1423.2,469 1423.9,450.6 1424.5,434.7 1425.4,422.4 1426.7,418.1 1428.1,423.7 1430.6,428 1432.1,424.9 1429.5,421.8 1431.6,418.1 1432.5,412 1433.2,397.3 1434.1,377.7 1434.9,356.9 1435.6,344.7 1436.5,320.2 1437.1,289.6 1438.1,274.9 1439.6,270 1441,270.6 1442,278.5 1442.6,295.7 1443.2,314 1443.9,330 1444.5,344.7 1445.4,356.9 1446.3,366.7 1447.9,365.5 1448.7,354.4 1449.4,344.7 1450.3,326.3 1450.8,301.8 1451.6,273.7 1452.4,256.5 1453.6,245.5 1454.5,238.2 1455.7,229.6 1457.3,225.9 1459.2,225.3 1460.6,228.4 1462.2,224.7 1463.8,224.7 1465,230.8 1465.5,246.7 1466.5,261.4 1467.5,281 1468.3,301.8 1469.2,320.2 1469.9,332.4 1470.8,350.8 1471.6,369.1 1472.6,381.4 1473.6,399.7 1474.8,412 1475.7,422.5 1476.5,438.4 1477.3,456.7 1478.3,471.4 1479.5,487.3 1480.8,505.7 1482,524 1483.2,536.3 1484.2,548.5 1485.4,560.8 1486.3,573 1487.5,585.3 1488.7,597.5 1490,607.3 1491.2,615.9 1492.8,625.6 1494.2,632.5 1494.2,634.3 1496,644.1 1496.9,655.1 1498.4,663.7 1499.4,669.8 1501.8,675.9 1503.1,683.2 1504.5,690.6 1505.7,697.9 1506.7,704 1508.6,707.7 1509.8,715.1 1512.2,714.5 1513.8,717.5 1515.5,720.6 1517.5,718.1 1519.2,717.5 1520.4,723 1522,720 1524.5,718.7 1525.7,712.6 1526.6,706.5 1528.5,701.6 1529,695.5 1531.2,691.8 1533.7,686.9 1534.9,682 1536.1,678.3 1537.1,671 1538.3,664.9 1540.4,662.4 1542.2,656.3 1544.1,651.4 1545.9,647.1 1547.7,643.5 1549.6,642.8 1551.4,637.9 1553.2,634.3 1555.1,629.4 1556.3,625.1 1557.9,625.1 1559.4,624.5 1560,634.3 1561.2,642.8 1562.1,652.6 1563,663.7 1564,675.9 1564.9,685.7 1565.7,695.5 1566.7,704 1567.9,712.6 1569.2,720 1570.6,726.1 1572.2,731.6 1574,733.4 1576.5,734.7 1578.3,731.6 1580.8,729.8 1582.4,726.1 1583.8,720 1585.1,713.8 1586.5,709.6 1588.7,708.3 1591.2,708.9 1593,712.6 1594.9,717.5 1596.7,724.9 1598.5,732.2 1599.8,740.8 1601,751.8 1602.2,760.4 1603.4,768.9 1604.7,777.5 1605.9,787.3 1607.1,794.6 1608.9,799.5 1610.8,800.8 1612.6,799.5 1614.4,802 1615.7,806.9 1615.7,812.2 1616.6,812.5 1616.9,824.5 1617.8,836.7 1618.5,855.1 1619.4,873.4 1620.2,891.8 1620.9,910.2 1621.8,922.4 1622.7,934.7 1623.6,946.9 1624.6,959.1 1625.5,971.4 1626.7,983.6 1627.9,995.9 1629.1,1000 1629.1,1005.6 1630,1012.5 1630.4,1018.4 1632.2,1036.7 1634.4,1055.1 1637.1,1073.4 1639.5,1091.8 1642,1106.5 1644.4,1122.4 1646.9,1134.7 1648.3,1140 1649.8,1152.2 1651.6,1164.5 1653.4,1176.7 1655.6,1189 1657.7,1201.2 1660.2,1213.4 1662.6,1225.7 1665.1,1236.7 1667.5,1246.5 1669.3,1252.6 1671.8,1258.7 1674.2,1264.9 1676.1,1271 1678.5,1275.9 1680.4,1282 1682.8,1286.9 1685.3,1292.4 1688.3,1297.9 1691.4,1303.4 1693.8,1307.7 1696.3,1311.4 1699.3,1315.7 1702.4,1320.6 1705.5,1324.2 1708.5,1328.5 1711.6,1331.6 1714.6,1335.2 1718.9,1338.9 1723.2,1342.6 1728.1,1345.6 1733,1347.5 1737.9,1349.9 1742.8,1351.8 1749.2,1353.5 1756.8,1355.8 1768.1,1358 1779.4,1359.9 1794.4,1361.4 1813.3,1361.8 1828.3,1361.4 1847.2,1362.9 1866,1362.9 1884.8,1361.8 1903.7,1361.4 1922.5,1361.1 1941.3,1359.9 1960.2,1359.2 1979,1357.7 1997.8,1356.7 2016.6,1356.7 2040,1357.1 2048.9,1357.2 2077.2,1357 2105.4,1356.9 2123.5,1356.7"/></g>
</g>
</svg>
</body></html>
